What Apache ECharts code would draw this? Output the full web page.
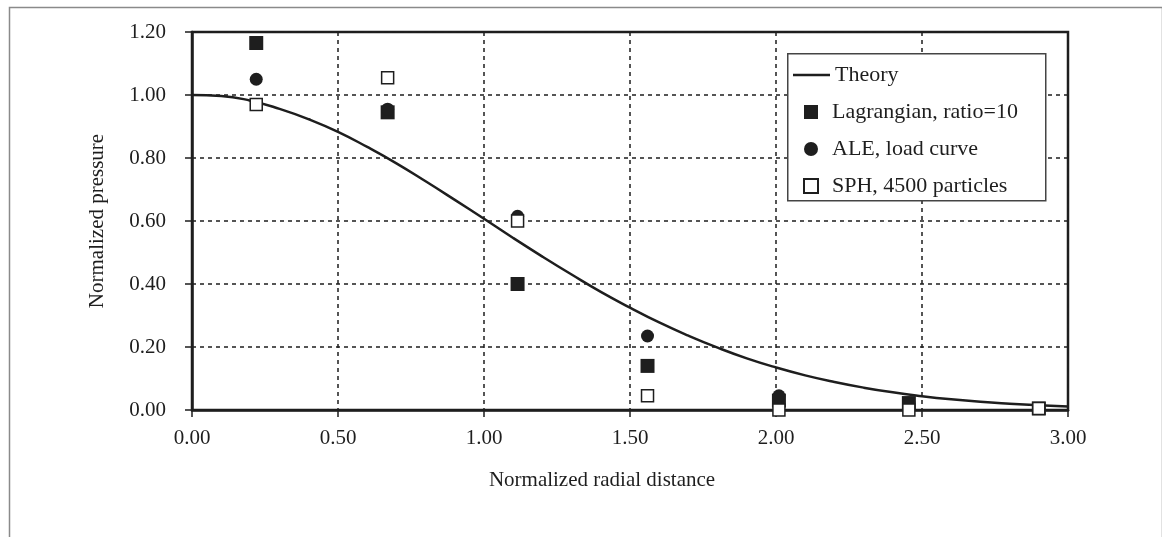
<!DOCTYPE html>
<html>
<head>
<meta charset="utf-8">
<script src="https://cdn.jsdelivr.net/npm/echarts@6/dist/echarts.min.js"></script>
<style>
html,body{margin:0;padding:0;background:#fff;}
#chart{width:1162px;height:537px;}
</style>
</head>
<body>
<div id="chart"></div>
<script>
// Data
const xTickLabels = ['0.00','0.50','1.00','1.50','2.00','2.50','3.00'];
const yTickLabels = ['0.00','0.20','0.40','0.60','0.80','1.00','1.20'];

const theoryX = [0,0.1,0.2,0.3,0.4,0.5,0.6,0.7,0.8,0.9,1.0,1.1,1.2,1.3,1.4,1.5,1.6,1.7,1.8,1.9,2.0,2.1,2.2,2.3,2.4,2.5,2.6,2.7,2.8,2.9,3.0];
const theoryY = [1.00,0.997,0.982,0.956,0.923,0.883,0.835,0.783,0.726,0.667,0.607,0.546,0.487,0.430,0.375,0.325,0.278,0.236,0.198,0.164,0.135,0.110,0.089,0.071,0.056,0.044,0.034,0.026,0.020,0.015,0.011];

const pointX = [0.22,0.67,1.115,1.56,2.01,2.455,2.90];
const lagrangianY = [1.165,0.945,0.40,0.14,0.03,0.022,0.005];
const aleY        = [1.05,0.955,0.615,0.235,0.045,0.022,0.005];
const sphY        = [0.97,1.055,0.60,0.045,0.0,0.0,0.005];

const seriesNames = ['Theory','Lagrangian, ratio=10','ALE, load curve','SPH, 4500 particles'];

const zip = (xs, ys) => xs.map((x, i) => [x, ys[i]]);
const FONT = '"Liberation Serif","Times New Roman",serif';
const INK = '#1e1e1e';
const legendText = {fontFamily:FONT, fontSize:22, color:INK, lineHeight:22};

const chart = echarts.init(document.getElementById('chart'), null, {renderer:'canvas'});
chart.setOption({
  animation:false,
  backgroundColor:'#fff',
  graphic:[
    {type:'rect', left:7, top:5, silent:true, z:-10,
     shape:{width:1153, height:560},
     style:{fill:'none', stroke:'#8a8a8a', lineWidth:1.5}},
    {type:'rect', left:787, top:53, silent:true, z:50,
     shape:{width:258, height:147},
     style:{fill:'#fff', stroke:'#444', lineWidth:1.5}}
  ],
  grid:{left:192, right:94, top:32, bottom:127, show:true, borderColor:INK, borderWidth:2.5},
  legend:[
    {
      orient:'vertical', left:793, top:64, padding:0, z:60,
      itemWidth:37, itemHeight:22, itemTextGap:5,
      textStyle:legendText,
      data:[{name:seriesNames[0], icon:'path://M0,0 L37,0 L37,2.5 L0,2.5 Z', itemStyle:{color:INK}}]
    },
    {
      orient:'vertical', left:803, top:101, padding:0, z:60,
      itemGap:15, itemWidth:32, itemHeight:14, itemTextGap:5,
      textStyle:legendText,
      data:[
        {name:seriesNames[1], icon:'path://M0,0 L14,0 L14,14 L0,14 Z'},
        {name:seriesNames[2], icon:'circle'},
        {name:seriesNames[3], icon:'path://M0,0 L12,0 L12,12 L0,12 Z'}
      ]
    }
  ],
  xAxis:{
    type:'value', min:0, max:3, interval:0.5,
    name:'Normalized radial distance', nameLocation:'middle', nameGap:60,
    nameTextStyle:{fontFamily:FONT, fontSize:21, color:INK, padding:[0,56,0,0]},
    axisLine:{show:true, onZero:false, lineStyle:{color:INK, width:2.5}},
    axisTick:{show:true, length:7, lineStyle:{color:INK, width:1.5}},
    axisLabel:{fontFamily:FONT, fontSize:21, color:INK, margin:18,
      formatter:(v)=>xTickLabels[Math.round(v/0.5)]},
    splitLine:{show:true, lineStyle:{color:INK, width:1.5, type:[4,4]}}
  },
  yAxis:{
    type:'value', min:0, max:1.2, interval:0.2,
    name:'Normalized pressure', nameLocation:'middle', nameGap:84,
    nameTextStyle:{fontFamily:FONT, fontSize:21, color:INK},
    axisLine:{show:true, onZero:false, lineStyle:{color:INK, width:2.5}},
    axisTick:{show:true, length:7, lineStyle:{color:INK, width:1.5}},
    axisLabel:{fontFamily:FONT, fontSize:21, color:INK, margin:26,
      formatter:(v)=>yTickLabels[Math.round(v/0.2)]},
    splitLine:{show:true, lineStyle:{color:INK, width:1.5, type:[4,4]}}
  },
  series:[
    {name:seriesNames[0], type:'line', data:zip(theoryX, theoryY), smooth:true,
     showSymbol:false, symbol:'none', lineStyle:{color:INK, width:2.5}, itemStyle:{color:INK}, z:2},
    {name:seriesNames[1], type:'scatter', data:zip(pointX, lagrangianY), symbol:'rect', symbolSize:14,
     itemStyle:{color:INK, opacity:1}, z:3},
    {name:seriesNames[2], type:'scatter', data:zip(pointX, aleY), symbol:'circle', symbolSize:13,
     itemStyle:{color:INK, opacity:1}, z:3},
    {name:seriesNames[3], type:'scatter', data:zip(pointX, sphY), symbol:'rect', symbolSize:12,
     itemStyle:{color:'#fff', borderColor:INK, borderWidth:1.5, opacity:1}, z:4}
  ]
});
</script>
</body>
</html>
